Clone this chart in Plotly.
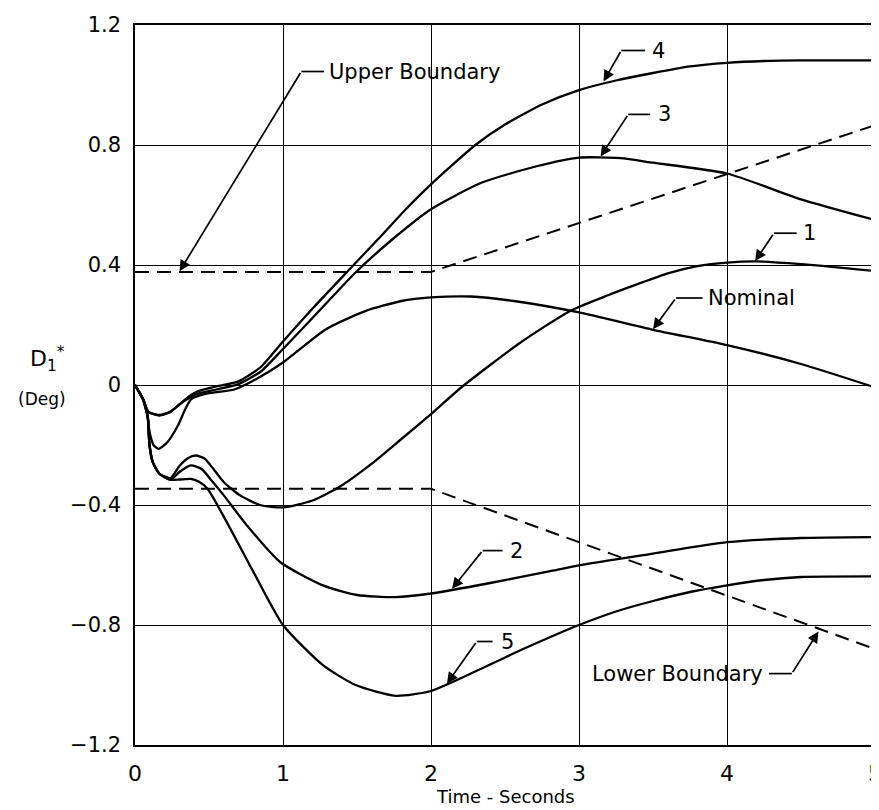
import plotly.graph_objects as go

# ---------------- data ----------------
t_c4 = [0, 0.054, 0.076, 0.09, 0.165, 0.24, 0.3, 0.36, 0.42, 0.55, 0.7, 0.85, 1.0, 1.2, 1.45, 1.65,
        1.83, 2.0, 2.3, 2.5, 2.75, 3.0, 3.25, 3.5, 3.75, 4.0, 4.25, 4.5, 5.0]
v_c4 = [0, -0.047, -0.075, -0.09, -0.102, -0.09, -0.065, -0.04, -0.022, -0.005, 0.012, 0.06, 0.145,
        0.255, 0.386, 0.49, 0.586, 0.669, 0.80, 0.868, 0.935, 0.983, 1.015, 1.04, 1.062, 1.074, 1.08,
        1.082, 1.082]

t_c3 = [0, 0.054, 0.076, 0.09, 0.165, 0.24, 0.3, 0.36, 0.42, 0.55, 0.7, 0.85, 1.0, 1.25, 1.49, 1.75,
        2.0, 2.34, 2.72, 3.0, 3.28, 3.5, 4.0, 4.5, 5.0]
v_c3 = [0, -0.047, -0.075, -0.09, -0.1, -0.088, -0.065, -0.045, -0.03, -0.015, 0.003, 0.045, 0.12,
        0.25, 0.375, 0.49, 0.586, 0.674, 0.73, 0.758, 0.756, 0.741, 0.705, 0.619, 0.55]

t_nom = [0, 0.054, 0.08, 0.1, 0.125, 0.16, 0.22, 0.29, 0.34, 0.38, 0.49, 0.67, 0.82, 1.0, 1.29, 1.56,
         1.8, 2.0, 2.27, 2.56, 3.0, 3.5, 4.0, 4.5, 5.0]
v_nom = [0, -0.047, -0.09, -0.16, -0.2, -0.213, -0.19, -0.135, -0.08, -0.047, -0.028, -0.015, 0.02,
         0.075, 0.186, 0.247, 0.28, 0.292, 0.295, 0.28, 0.242, 0.184, 0.133, 0.07, -0.008]

t_c1 = [0, 0.054, 0.076, 0.087, 0.098, 0.12, 0.165, 0.24, 0.3, 0.36, 0.41, 0.47, 0.53, 0.6, 0.71,
        0.845, 1.0, 1.2, 1.38, 1.6, 1.8, 2.0, 2.2, 2.6, 2.94, 3.2, 3.4, 3.6, 3.8, 4.0, 4.2, 4.5, 5.0]
v_c1 = [0, -0.047, -0.085, -0.11, -0.2, -0.257, -0.296, -0.31, -0.27, -0.243, -0.235, -0.245, -0.28,
        -0.324, -0.368, -0.40, -0.408, -0.385, -0.34, -0.262, -0.18, -0.097, -0.01, 0.14,
        0.247, 0.30, 0.337, 0.372, 0.396, 0.408, 0.412, 0.403, 0.38]

t_c2 = [0, 0.054, 0.076, 0.087, 0.098, 0.12, 0.165, 0.24, 0.3, 0.377, 0.45, 0.52, 0.6, 0.756, 0.98,
        1.27, 1.5, 1.76, 2.0, 2.4, 2.83, 3.0, 3.5, 4.0, 4.5, 5.0]
v_c2 = [0, -0.047, -0.085, -0.11, -0.2, -0.257, -0.296, -0.316, -0.29, -0.268, -0.28, -0.32, -0.368,
        -0.468, -0.59, -0.668, -0.70, -0.707, -0.695, -0.66, -0.618, -0.601, -0.562, -0.524, -0.51,
        -0.507]

t_c5 = [0, 0.054, 0.076, 0.087, 0.098, 0.12, 0.165, 0.24, 0.3, 0.377, 0.43, 0.49, 0.62, 0.8, 1.0,
        1.27, 1.49, 1.76, 2.0, 2.385, 2.6, 2.83, 3.0, 3.25, 3.5, 3.75, 4.0, 4.25, 4.5, 5.0]
v_c5 = [0, -0.047, -0.085, -0.11, -0.2, -0.257, -0.296, -0.316, -0.315, -0.313, -0.322, -0.346,
        -0.457, -0.623, -0.80, -0.934, -1.0, -1.036, -1.02, -0.935, -0.885, -0.835, -0.8, -0.755,
        -0.72, -0.69, -0.668, -0.65, -0.64, -0.638]

t_upper = [0, 2, 5]
v_upper = [0.377, 0.377, 0.866]
t_lower = [0, 2, 5]
v_lower = [-0.346, -0.346, -0.88]

x_ticks = [0, 1, 2, 3, 4, 5]
x_ticktext = ["0", "1", "2", "3", "4", "5"]
y_ticks = [-1.2, -0.8, -0.4, 0, 0.4, 0.8, 1.2]
y_ticktext = ["\u22121.2", "\u22120.8", "\u22120.4", "0", "0.4", "0.8", "1.2"]

# labels: (text, tip_x, tip_y, elbow_x, elbow_y, hend_x, text_x, anchor)
labels = [
    ("Upper Boundary", 0.301, 0.379, 1.124, 1.045, 1.278, 1.30, "left"),
    ("4", 3.166, 1.012, 3.286, 1.115, 3.447, 3.48, "left"),
    ("3", 3.146, 0.762, 3.333, 0.902, 3.481, 3.52, "left"),
    ("1", 4.19, 0.413, 4.317, 0.506, 4.471, 4.50, "left"),
    ("Nominal", 3.50, 0.186, 3.655, 0.29, 3.835, 3.855, "left"),
    ("2", 2.142, -0.679, 2.349, -0.552, 2.483, 2.52, "left"),
    ("5", 2.108, -0.995, 2.309, -0.855, 2.416, 2.46, "left"),
    ("Lower Boundary", 4.618, -0.822, 4.438, -0.962, 4.284, 4.257, "right"),
]

FONT = "DejaVu Sans, Arial, sans-serif"

fig = go.Figure()
curve_line = dict(color="black", width=2.3, shape="spline", smoothing=0.6)
for tx, vy in [(t_c4, v_c4), (t_c3, v_c3), (t_nom, v_nom), (t_c1, v_c1), (t_c2, v_c2), (t_c5, v_c5)]:
    fig.add_trace(go.Scatter(x=tx, y=vy, mode="lines", line=curve_line, hoverinfo="skip"))
for tx, vy in [(t_upper, v_upper), (t_lower, v_lower)]:
    fig.add_trace(go.Scatter(x=tx, y=vy, mode="lines",
                             line=dict(color="black", width=2, dash="14px,8px"), hoverinfo="skip"))

annotations = []
shapes = []
for text, tx, ty, ex, ey, hx, lx, anc in labels:
    annotations.append(dict(x=tx, y=ty, ax=ex, ay=ey, xref="x", yref="y", axref="x", ayref="y",
                            text="", showarrow=True, arrowhead=2, arrowsize=1.3, arrowwidth=1.7,
                            arrowcolor="black", standoff=0))
    shapes.append(dict(type="line", x0=ex, y0=ey, x1=hx, y1=ey, xref="x", yref="y",
                       line=dict(color="black", width=1.7)))
    annotations.append(dict(x=lx, y=ey, xref="x", yref="y", text=text, showarrow=False,
                            xanchor=anc, yanchor="middle", font=dict(family=FONT, size=21, color="black")))

# axis titles
annotations.append(dict(x=-0.118, y=0.087, xref="paper", yref="y", showarrow=False,
                        text="D<sub>1</sub><sup>*</sup>", xanchor="center", yanchor="middle",
                        font=dict(family=FONT, size=22, color="black")))
annotations.append(dict(x=-0.126, y=-0.047, xref="paper", yref="y", showarrow=False,
                        text="(Deg)", xanchor="center", yanchor="middle",
                        font=dict(family=FONT, size=17, color="black")))
annotations.append(dict(x=0.5, y=-0.072, xref="paper", yref="paper", showarrow=False,
                        text="Time - Seconds", xanchor="center", yanchor="middle",
                        font=dict(family=FONT, size=18, color="black")))

fig.update_layout(
    width=879, height=810,
    margin=dict(l=127, r=5, t=15, b=73),
    plot_bgcolor="white", paper_bgcolor="white",
    showlegend=False,
    annotations=annotations,
    shapes=shapes,
    xaxis=dict(range=[0, 5], tickvals=x_ticks, ticktext=x_ticktext, showgrid=True,
               gridcolor="black", gridwidth=1, showline=True, linecolor="black", linewidth=1.5,
               mirror=True, zeroline=False, ticks="", ticklabelstandoff=8,
               tickfont=dict(family="Liberation Sans Narrow, Arial Narrow, " + FONT, size=22, color="black")),
    yaxis=dict(range=[-1.2, 1.2], tickvals=y_ticks, ticktext=y_ticktext, showgrid=True,
               gridcolor="black", gridwidth=1, showline=True, linecolor="black", linewidth=1.5,
               mirror=True, zeroline=False, ticks="", ticklabelstandoff=8,
               tickfont=dict(family=FONT, size=21, color="black")),
)

fig.write_html("out.html")
